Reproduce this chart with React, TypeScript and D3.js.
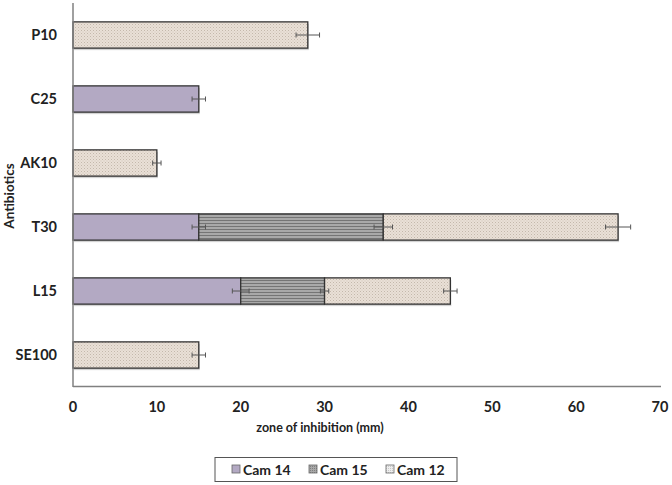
import React from "react";
import * as d3 from "d3";

const categories = ["P10", "C25", "AK10", "T30", "L15", "SE100"];
const seriesNames = ["Cam 14", "Cam 15", "Cam 12"];
const cam14 = [0, 15, 0, 15, 20, 0];
const cam15 = [0, 0, 0, 22, 10, 0];
const cam12 = [28, 0, 10, 28, 15, 15];
const err14 = [0, 0.8, 0, 0.8, 1.0, 0];
const err15 = [0, 0, 0, 1.1, 0.5, 0];
const err12 = [1.4, 0, 0.5, 1.5, 0.8, 0.8];
const xTicks = [0, 10, 20, 30, 40, 50, 60, 70];

const W = 672;
const H = 485;
const FONT = "Lato, 'Open Sans', sans-serif";

export default function App() {
  const x = d3.scaleLinear().domain([0, 70]).range([73, 660]);
  const y = d3.scaleBand<string>().domain(categories).range([3, 387]).paddingInner(0.59).paddingOuter(0.295);

  const rows = categories.map((c, i) => ({ cat: c, "Cam 14": cam14[i], "Cam 15": cam15[i], "Cam 12": cam12[i] }));
  const errs: Record<string, number[]> = { "Cam 14": err14, "Cam 15": err15, "Cam 12": err12 };
  const stack = d3.stack<any>().keys(seriesNames)(rows);
  const fills: Record<string, string> = { "Cam 14": "#b3a9c3", "Cam 15": "url(#pat15)", "Cam 12": "url(#pat12)" };
  const legendFills: Record<string, string> = { "Cam 14": "#b3a9c3", "Cam 15": "url(#pat15s)", "Cam 12": "url(#pat12s)" };
  const bh = y.bandwidth();

  const legendX = [232, 309, 386];

  return (
    <svg width={W} height={H} style={{ position: "absolute", left: 0, top: 0, background: "#fff" }}>
      <defs>
        <pattern id="pat12" width="3" height="3" patternUnits="userSpaceOnUse">
          <rect width="3" height="3" fill="#e9e0d7" />
          <rect x="0" y="0" width="1" height="1" fill="#c4b8ab" />
          <rect x="1.5" y="1.5" width="1" height="1" fill="#d2c6ba" />
        </pattern>
        <pattern id="pat15" width="4" height="3" patternUnits="userSpaceOnUse">
          <rect width="4" height="3" fill="#a9a9a9" />
          <path d="M0,2 L1,1 L2,2 L3,1 L4,2" stroke="#6f6f6f" strokeWidth="0.9" fill="none" />
        </pattern>
        <pattern id="pat12s" width="2" height="2" patternUnits="userSpaceOnUse">
          <rect width="2" height="2" fill="#eeeeee" />
          <rect width="1" height="1" fill="#c8c8c8" />
        </pattern>
        <pattern id="pat15s" width="2" height="2" patternUnits="userSpaceOnUse">
          <rect width="2" height="2" fill="#a8a8a8" />
          <rect width="1" height="1" fill="#808080" />
        </pattern>
      </defs>

      {/* bar shadows */}
      {stack.map((s) =>
        s.map((d, i) =>
          d[1] - d[0] > 0 ? (
            <rect key={`sh-${s.key}-${i}`} x={x(d[0]) + 1} y={(y(categories[i]) as number) + 2}
              width={x(d[1]) - x(d[0])} height={bh} fill="#b5b5b5" opacity={0.6} />
          ) : null
        )
      )}
      {/* bars */}
      {stack.map((s) =>
        s.map((d, i) =>
          d[1] - d[0] > 0 ? (
            <rect key={`b-${s.key}-${i}`} x={x(d[0])} y={y(categories[i]) as number}
              width={x(d[1]) - x(d[0])} height={bh} fill={fills[s.key]} stroke="#333" strokeWidth={1.3} />
          ) : null
        )
      )}
      {/* error bars */}
      {stack.map((s) =>
        s.map((d, i) => {
          const e = errs[s.key][i];
          if (!(d[1] - d[0] > 0) || !e) return null;
          const cy = (y(categories[i]) as number) + bh / 2;
          const x1 = x(d[1] - e), x2 = x(d[1] + e);
          return (
            <g key={`e-${s.key}-${i}`} stroke="#555" strokeWidth={1}>
              <line x1={x1} x2={x2} y1={cy} y2={cy} />
              <line x1={x1} x2={x1} y1={cy - 2.5} y2={cy + 2.5} />
              <line x1={x2} x2={x2} y1={cy - 2.5} y2={cy + 2.5} />
            </g>
          );
        })
      )}

      {/* axes */}
      <line x1={73} x2={73} y1={3} y2={387} stroke="#808080" strokeWidth={1.5} />
      <line x1={73} x2={661} y1={386.5} y2={386.5} stroke="#808080" strokeWidth={1.5} />

      {xTicks.map((t) => (
        <text key={t} x={x(t)} y={412} textAnchor="middle" fontFamily={FONT} fontWeight="bold" fontSize={14.5} fill="#222">{t}</text>
      ))}
      {categories.map((c) => (
        <text key={c} x={57} y={(y(c) as number) + bh / 2 + 5} textAnchor="end" fontFamily={FONT} fontWeight="bold" fontSize={14.5} fill="#222">{c}</text>
      ))}

      <text x={320} y={432} textAnchor="middle" fontFamily={FONT} fontWeight="bold" fontSize={12.5} fill="#222">zone of inhibition (mm)</text>
      <text transform="translate(14,196) rotate(-90)" textAnchor="middle" fontFamily={FONT} fontWeight="bold" fontSize={13.5} fill="#222">Antibiotics</text>

      {/* legend */}
      <rect x={215} y={457.5} width={242} height={24} fill="#fff" stroke="#555" strokeWidth={1} />
      {seriesNames.map((n, i) => (
        <g key={n}>
          <rect x={legendX[i]} y={465} width={8} height={8} fill={legendFills[n]} stroke="#666" strokeWidth={0.8} />
          <text x={legendX[i] + 11} y={474.5} fontFamily={FONT} fontWeight="bold" fontSize={14} fill="#222">{n}</text>
        </g>
      ))}
    </svg>
  );
}
